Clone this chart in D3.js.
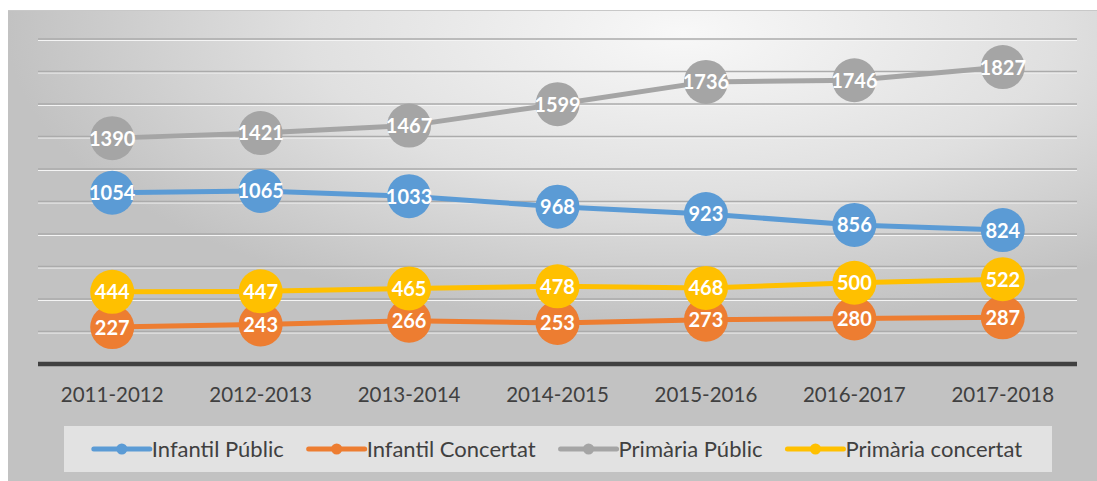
<!DOCTYPE html>
<html>
<head>
<meta charset="utf-8">
<script src="https://cdn.jsdelivr.net/npm/d3@7"></script>
<style>
  html, body { margin: 0; padding: 0; background: #fff; }
  svg { display: block; }
  .tick-label { font-family: Lato, "Open Sans", sans-serif; font-size: 20.5px; fill: #404040; }
  .data-label { font-family: Lato, "Open Sans", sans-serif; font-size: 20px; font-weight: bold; fill: #fff; }
  .legend-text { font-family: Lato, "Open Sans", sans-serif; font-size: 22px; fill: #404040; }
</style>
</head>
<body>
<svg width="1097" height="481"></svg>
<script>
var categories = ["2011-2012", "2012-2013", "2013-2014", "2014-2015", "2015-2016", "2016-2017", "2017-2018"];
var seriesNames = ["Infantil Públic", "Infantil Concertat", "Primària Públic", "Primària concertat"];
var seriesColors = ["#5b9bd5", "#ed7d31", "#a5a5a5", "#ffc000"];
var infantilPublic = [1054, 1065, 1033, 968, 923, 856, 824];
var infantilConcertat = [227, 243, 266, 253, 273, 280, 287];
var primariaPublic = [1390, 1421, 1467, 1599, 1736, 1746, 1827];
var primariaConcertat = [444, 447, 465, 478, 468, 500, 522];
var yTicks = [200, 400, 600, 800, 1000, 1200, 1400, 1600, 1800, 2000];

var seriesValues = [infantilPublic, infantilConcertat, primariaPublic, primariaConcertat];

var svg = d3.select("svg"),
    svg_width = +svg.attr("width"),
    svg_height = +svg.attr("height"),
    plot = {left: 38, right: 1077, top: 39, bottom: 364};

var x = d3.scaleBand().domain(categories).range([plot.left, plot.right]);
var y = d3.scaleLinear().domain([0, 2000]).range([plot.bottom, plot.top]);

// Background
var defs = svg.append("defs");
var grad = defs.append("radialGradient")
    .attr("id", "bg")
    .attr("cx", 0.62).attr("cy", 0.05).attr("r", 0.62);
grad.append("stop").attr("offset", "0%").attr("stop-color", "#f8f8f8");
grad.append("stop").attr("offset", "55%").attr("stop-color", "#e0e0e0");
grad.append("stop").attr("offset", "100%").attr("stop-color", "#c2c2c2");

svg.append("rect")
    .attr("x", 8).attr("y", 10)
    .attr("width", svg_width - 8).attr("height", svg_height - 10)
    .attr("fill", "url(#bg)");
svg.append("line")
    .attr("x1", 8).attr("x2", svg_width)
    .attr("y1", 10.5).attr("y2", 10.5)
    .attr("stroke", "#c8c8c8").attr("stroke-width", 1);

// Gridlines
var grid = svg.append("g");
grid.selectAll("line.shade")
    .data(yTicks).enter().append("line")
    .attr("class", "shade")
    .attr("x1", plot.left).attr("x2", plot.right)
    .attr("y1", function(d) { return y(d) + 1.5; })
    .attr("y2", function(d) { return y(d) + 1.5; })
    .attr("stroke", "#f4f4f4").attr("stroke-width", 1);
grid.selectAll("line.main")
    .data(yTicks).enter().append("line")
    .attr("class", "main")
    .attr("x1", plot.left).attr("x2", plot.right)
    .attr("y1", function(d) { return y(d); })
    .attr("y2", function(d) { return y(d); })
    .attr("stroke", "#ababab").attr("stroke-width", 1.5);

// X axis
var xAxis = svg.append("g")
    .attr("transform", "translate(0," + plot.bottom + ")")
    .call(d3.axisBottom(x).tickSize(0).tickPadding(23));
xAxis.select(".domain")
    .attr("stroke", "#404040").attr("stroke-width", 4.5)
    .attr("d", "M" + plot.left + ",0H" + plot.right);
xAxis.selectAll("text")
    .attr("class", "tick-label")
    .attr("fill", null)
    .attr("font-size", null)
    .attr("font-family", null);

// Series
var line = d3.line()
    .x(function(d, i) { return x(categories[i]) + x.bandwidth() / 2; })
    .y(function(d) { return y(d); });

for (var s = 0; s < seriesValues.length; s++) {
    var g = svg.append("g");
    var vals = seriesValues[s];
    g.append("path")
        .datum(vals)
        .attr("d", line)
        .attr("fill", "none")
        .attr("stroke", seriesColors[s])
        .attr("stroke-width", 5)
        .attr("stroke-linejoin", "round");
    g.selectAll("circle")
        .data(vals).enter().append("circle")
        .attr("cx", function(d, i) { return x(categories[i]) + x.bandwidth() / 2; })
        .attr("cy", function(d) { return y(d); })
        .attr("r", 22)
        .attr("fill", seriesColors[s]);
    g.selectAll("text")
        .data(vals).enter().append("text")
        .attr("class", "data-label")
        .attr("x", function(d, i) { return x(categories[i]) + x.bandwidth() / 2; })
        .attr("y", function(d) { return y(d); })
        .attr("dy", "0.37em")
        .attr("text-anchor", "middle")
        .text(function(d) { return d; });
}

// Legend
var legend = {box: {x: 64, y: 426, width: 988, height: 46}, lineLen: 56, gap: 25};
var lg = svg.append("g");
lg.append("rect")
    .attr("x", legend.box.x).attr("y", legend.box.y)
    .attr("width", legend.box.width).attr("height", legend.box.height)
    .attr("fill", "#ececec").attr("fill-opacity", 0.75);

var items = [];
var cursor = 0;
for (var k = 0; k < seriesNames.length; k++) {
    var item = lg.append("g");
    item.append("line")
        .attr("x1", 0).attr("x2", legend.lineLen)
        .attr("y1", 0).attr("y2", 0)
        .attr("stroke", seriesColors[k]).attr("stroke-width", 5)
        .attr("stroke-linecap", "round");
    item.append("circle")
        .attr("cx", legend.lineLen / 2).attr("cy", 0).attr("r", 5.5)
        .attr("fill", seriesColors[k]);
    var t = item.append("text")
        .attr("class", "legend-text")
        .attr("x", legend.lineLen + 2).attr("y", 0)
        .attr("dy", "0.35em")
        .text(seriesNames[k]);
    var w = legend.lineLen + 2 + t.node().getComputedTextLength();
    items.push({g: item, x: cursor});
    cursor += w + legend.gap;
}
var total = cursor - legend.gap;
var startX = legend.box.x + (legend.box.width - total) / 2;
items.forEach(function(it) {
    it.g.attr("transform", "translate(" + (startX + it.x) + "," + (legend.box.y + legend.box.height / 2) + ")");
});
</script>
</body>
</html>
